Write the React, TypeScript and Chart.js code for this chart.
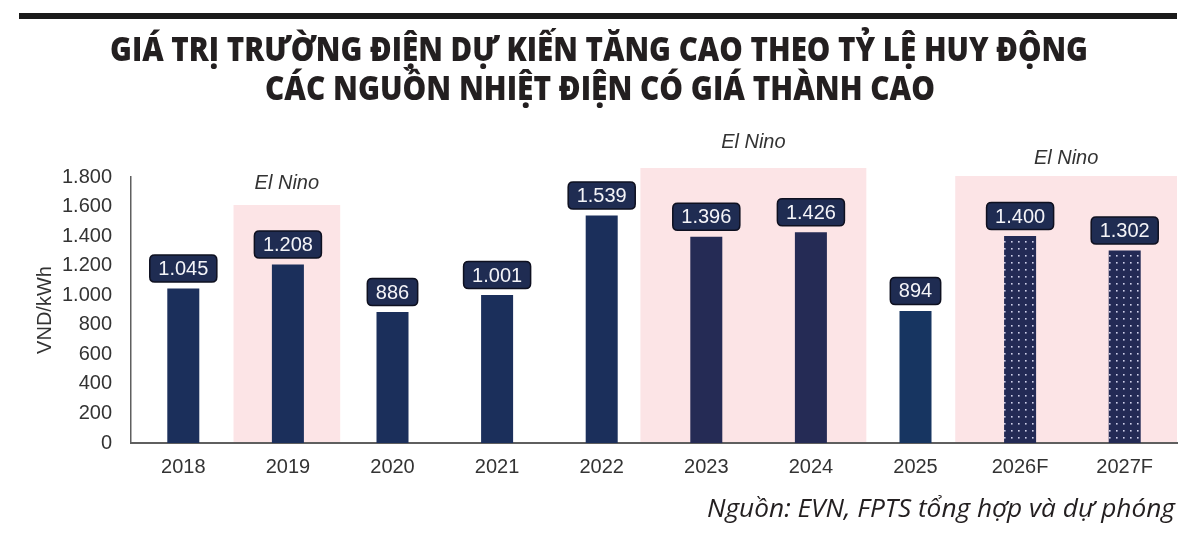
import React, { useEffect, useRef } from "react";
import { Chart, registerables } from "chart.js";

Chart.register(...registerables);

const categories = ["2018", "2019", "2020", "2021", "2022", "2023", "2024", "2025", "2026F", "2027F"];
const prices = [1045, 1208, 886, 1001, 1539, 1396, 1426, 894, 1400, 1302];
const forecastFlags = [false, false, false, false, false, false, false, false, true, true];
const elNinoLabel = "El Nino";
const elNinoFrom = ["2019", "2023", "2026F"];
const elNinoTo = ["2019", "2024", "2027F"];
const yTickValues = [0, 200, 400, 600, 800, 1000, 1200, 1400, 1600, 1800];
const titleLines = [
  "GIÁ TRỊ TRƯỜNG ĐIỆN DỰ KIẾN TĂNG CAO THEO TỶ LỆ HUY ĐỘNG",
  "CÁC NGUỒN NHIỆT ĐIỆN CÓ GIÁ THÀNH CAO",
];
const yAxisTitle = "VND/kWh";
const sourceText = "Nguồn: EVN, FPTS tổng hợp và dự phóng";

// styling (not data)
const barColors = ["#1b2f5b", "#1b2f5b", "#1b2f5b", "#1b2f5b", "#1b2f5b", "#252b55", "#252b55", "#173561", "#232a55", "#232a55"];
const regionStyle = [
  { left: 0.52, right: 0.5, topPx: 205, labelY: 183 },
  { left: 0.63, right: 0.53, topPx: 168, labelY: 142 },
  { left: 0.62, right: 0.5, topPx: 176, labelY: 158 },
];

function fmt(n: number): string {
  if (n >= 1000) return Math.floor(n / 1000) + "." + String(n % 1000).padStart(3, "0");
  return String(n);
}

function makeDotPattern(base: string): CanvasPattern | string {
  const c = document.createElement("canvas");
  c.width = 7;
  c.height = 7;
  const g = c.getContext("2d");
  if (!g) return base;
  g.fillStyle = base;
  g.fillRect(0, 0, 7, 7);
  g.fillStyle = "#cfd0ea";
  g.fillRect(3, 3, 1.6, 1.6);
  const p = g.createPattern(c, "repeat");
  return p || base;
}

function drawScaledText(ctx: CanvasRenderingContext2D, text: string, x: number, y: number, targetW: number, align: "center" | "right") {
  const w = ctx.measureText(text).width;
  const s = targetW / w;
  ctx.save();
  ctx.translate(x, y);
  ctx.scale(s, 1);
  ctx.textAlign = align;
  ctx.fillText(text, 0, 0);
  ctx.restore();
}

function roundRect(ctx: CanvasRenderingContext2D, x: number, y: number, w: number, h: number, r: number) {
  ctx.beginPath();
  ctx.moveTo(x + r, y);
  ctx.lineTo(x + w - r, y);
  ctx.quadraticCurveTo(x + w, y, x + w, y + r);
  ctx.lineTo(x + w, y + h - r);
  ctx.quadraticCurveTo(x + w, y + h, x + w - r, y + h);
  ctx.lineTo(x + r, y + h);
  ctx.quadraticCurveTo(x, y + h, x, y + h - r);
  ctx.lineTo(x, y + r);
  ctx.quadraticCurveTo(x, y, x + r, y);
  ctx.closePath();
}

const decorPlugin = {
  id: "decor",
  beforeDraw(chart: any) {
    const ctx: CanvasRenderingContext2D = chart.ctx;
    const xs = chart.scales.x;
    const ys = chart.scales.y;
    ctx.save();
    ctx.fillStyle = "#ffffff";
    ctx.fillRect(0, 0, chart.width, chart.height);
    // top rule
    ctx.fillStyle = "#1a1a1a";
    ctx.fillRect(19, 13, 1158, 6);
    // title
    ctx.fillStyle = "#231f20";
    ctx.font = "800 34px 'Open Sans'";
    ctx.textBaseline = "alphabetic";
    drawScaledText(ctx, titleLines[0], 599, 61, 978, "center");
    drawScaledText(ctx, titleLines[1], 600, 100, 670, "center");
    // El Nino shading
    const step = xs.width / categories.length;
    const base = ys.getPixelForValue(0);
    for (let k = 0; k < elNinoFrom.length; k++) {
      const st = regionStyle[k];
      const i0 = categories.indexOf(elNinoFrom[k]);
      const i1 = categories.indexOf(elNinoTo[k]);
      const l = xs.getPixelForValue(i0) - step * st.left;
      const r = xs.getPixelForValue(i1) + step * st.right;
      ctx.fillStyle = "#fce4e6";
      ctx.fillRect(l, st.topPx, r - l, base - st.topPx);
      ctx.fillStyle = "#333333";
      ctx.font = "italic 20px 'Liberation Sans', Arial";
      ctx.textAlign = "center";
      ctx.textBaseline = "middle";
      ctx.fillText(elNinoLabel, (l + r) / 2, st.labelY);
    }
    // y title
    ctx.save();
    ctx.translate(45, 310);
    ctx.rotate(-Math.PI / 2);
    ctx.fillStyle = "#333333";
    ctx.font = "20px 'Liberation Sans', Arial";
    ctx.textAlign = "center";
    ctx.textBaseline = "middle";
    ctx.fillText(yAxisTitle, 0, 0);
    ctx.restore();
    // source
    ctx.fillStyle = "#231f20";
    ctx.font = "italic 26px 'Open Sans'";
    ctx.textBaseline = "alphabetic";
    drawScaledText(ctx, sourceText, 1175, 517, 468, "right");
    ctx.restore();
  },
  afterDatasetsDraw(chart: any) {
    const ctx: CanvasRenderingContext2D = chart.ctx;
    const meta = chart.getDatasetMeta(0);
    ctx.save();
    ctx.font = "20px 'Liberation Sans', Arial";
    ctx.textAlign = "center";
    ctx.textBaseline = "middle";
    meta.data.forEach((bar: any, i: number) => {
      const txt = fmt(prices[i]);
      const tw = ctx.measureText(txt).width;
      const w = tw + 17;
      const h = 27;
      const cx = bar.x;
      const cy = bar.y - 20;
      roundRect(ctx, cx - w / 2, cy - h / 2, w, h, 5);
      ctx.fillStyle = "#1f2c52";
      ctx.fill();
      ctx.lineWidth = 1.5;
      ctx.strokeStyle = "#0e1020";
      ctx.stroke();
      ctx.fillStyle = "#f4f4f8";
      ctx.fillText(txt, cx, cy + 1);
    });
    ctx.restore();
  },
};

export default function App() {
  const ref = useRef<HTMLCanvasElement | null>(null);
  useEffect(() => {
    if (!ref.current) return;
    const bg = prices.map((_, i) => (forecastFlags[i] ? makeDotPattern(barColors[i]) : barColors[i]));
    const chart = new Chart(ref.current, {
      type: "bar",
      data: {
        labels: categories,
        datasets: [
          {
            data: prices,
            backgroundColor: bg as any,
            borderWidth: 0,
            barPercentage: 0.306,
            categoryPercentage: 1,
          },
        ],
      },
      options: {
        responsive: false,
        animation: false,
        devicePixelRatio: 1,
        layout: { padding: { top: 177, left: 0, right: 23, bottom: 0 } },
        plugins: { legend: { display: false }, tooltip: { enabled: false }, title: { display: false } },
        scales: {
          x: {
            grid: { display: false, drawTicks: false },
            border: { display: true, color: "#5f5f5f", width: 2 },
            ticks: { color: "#333333", font: { family: "'Liberation Sans', Arial", size: 20 }, padding: 12 },
            afterFit: (s: any) => {
              s.height = 101;
            },
          },
          y: {
            min: 0,
            max: 1800,
            grid: { display: false, drawTicks: false },
            border: { display: true, color: "#5f5f5f", width: 1.5 },
            afterBuildTicks: (s: any) => {
              s.ticks = yTickValues.map((v) => ({ value: v }));
            },
            ticks: {
              color: "#333333",
              font: { family: "'Liberation Sans', Arial", size: 20 },
              padding: 19,
              callback: (v: any) => fmt(Number(v)),
            },
            afterFit: (s: any) => {
              s.width = 131;
            },
          },
        },
      },
      plugins: [decorPlugin],
    });
    return () => chart.destroy();
  }, []);
  return (
    <div style={{ position: "absolute", left: 0, top: 0, width: 1200, height: 544, background: "#fff" }}>
      <canvas ref={ref} width={1200} height={544} style={{ width: 1200, height: 544, display: "block" }} />
    </div>
  );
}
